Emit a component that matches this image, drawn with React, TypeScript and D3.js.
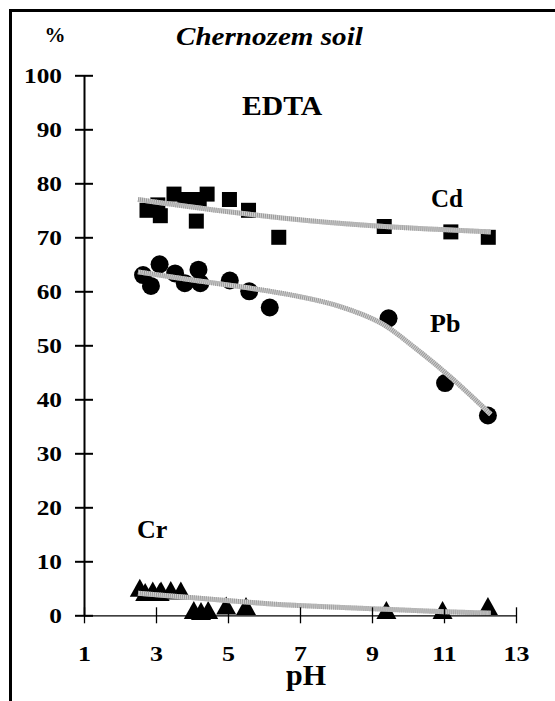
import React, { useEffect, useRef } from 'react';
import * as d3 from 'd3';

// Cd (squares)
const cdPH = [2.75, 3.05, 3.12, 3.5, 3.8, 4.12, 4.2, 4.42, 5.04, 5.57, 6.41, 9.34, 11.19, 12.23];
const cdValue = [75, 76, 74, 78, 77, 73, 77, 78, 77, 75, 70, 72, 71, 70];
// Pb (circles)
const pbPH = [2.64, 2.86, 3.1, 3.53, 3.8, 4.18, 4.23, 5.05, 5.59, 6.16, 9.46, 11.03, 12.22];
const pbValue = [63, 61, 65, 63.3, 61.5, 64, 61.5, 62, 60, 57, 55, 43, 37];
// Cr (triangles)
const crPH = [2.55, 2.7, 2.91, 3.1, 3.14, 3.41, 3.69, 4.05, 4.25, 4.45, 4.95, 5.5, 9.4, 10.96, 12.22];
const crValue = [5.1, 4.3, 4.6, 4.3, 4.6, 4.7, 4.6, 1, 0.8, 1, 1.8, 1.7, 1, 1, 1.7];

// trend lines
const cdTrendPH = [2.5, 4.8, 7.2, 9.35, 12.3];
const cdTrend = [77, 74.9, 73.1, 72, 71];
const pbTrendPH = [2.5, 4.2, 5.6, 7, 8.1, 9.25, 10.2, 11.2, 12.3];
const pbTrend = [63.6, 61.9, 60.6, 59, 57.2, 54.1, 49.5, 44, 37.2];
const crTrendPH = [2.5, 3.95, 6.2, 7, 9.4, 11, 12.3];
const crTrend = [4.1, 3.3, 2.1, 1.8, 1.1, 0.67, 0.4];

const xTicks = [1, 3, 5, 7, 9, 11, 13];
const yTicks = [0, 10, 20, 30, 40, 50, 60, 70, 80, 90, 100];

const serif = "'Liberation Serif', 'Times New Roman', serif";

export default function App() {
  const ref = useRef<SVGSVGElement | null>(null);

  useEffect(() => {
    document.body.style.margin = '0';
    const svg = d3.select(ref.current);
    svg.selectAll('*').remove();

    const x = d3.scaleLinear().domain([1, 13]).range([84, 516]);
    const y = d3.scaleLinear().domain([0, 100]).range([615.3, 75.3]);

    // frame (top and left edges only)
    svg.append('line').attr('x1', 9).attr('x2', 555).attr('y1', 10.5).attr('y2', 10.5)
      .attr('stroke', '#000').attr('stroke-width', 3);
    svg.append('line').attr('x1', 10.5).attr('x2', 10.5).attr('y1', 9).attr('y2', 701)
      .attr('stroke', '#000').attr('stroke-width', 3);

    // markers
    const cd = d3.range(cdPH.length).map((i) => [cdPH[i], cdValue[i]]);
    const pb = d3.range(pbPH.length).map((i) => [pbPH[i], pbValue[i]]);
    const cr = d3.range(crPH.length).map((i) => [crPH[i], crValue[i]]);

    svg.append('g').selectAll('rect').data(cd).enter().append('rect')
      .attr('x', (d) => x(d[0]) - 7.5).attr('y', (d) => y(d[1]) - 7.5)
      .attr('width', 15).attr('height', 15).attr('fill', '#000');

    svg.append('g').selectAll('circle').data(pb).enter().append('circle')
      .attr('cx', (d) => x(d[0])).attr('cy', (d) => y(d[1])).attr('r', 9).attr('fill', '#000');

    svg.append('g').selectAll('path').data(cr).enter().append('path')
      .attr('d', (d) => {
        const cx = x(d[0]);
        const cy = y(d[1]);
        return `M${cx},${cy - 9}L${cx + 10},${cy + 9}L${cx - 10},${cy + 9}Z`;
      })
      .attr('fill', '#000');

    // trend lines (grey, striped)
    const line = d3.line<number[]>().x((d) => x(d[0])).y((d) => y(d[1])).curve(d3.curveCatmullRom.alpha(0.5));
    const trends = [
      cdTrendPH.map((p, i) => [p, cdTrend[i]]),
      pbTrendPH.map((p, i) => [p, pbTrend[i]]),
      crTrendPH.map((p, i) => [p, crTrend[i]]),
    ];
    trends.forEach((t) => {
      svg.append('path').attr('d', line(t)).attr('fill', 'none')
        .attr('stroke', '#d2d2d2').attr('stroke-width', 5);
      svg.append('path').attr('d', line(t)).attr('fill', 'none')
        .attr('stroke', '#9a9a9a').attr('stroke-width', 5).attr('stroke-dasharray', '1 1');
    });

    // axes
    const yAxis = svg.append('g').attr('transform', 'translate(84,0)')
      .call(d3.axisLeft(y).tickValues(yTicks).tickSize(9).tickSizeOuter(0).tickPadding(13));
    yAxis.select('.domain').attr('stroke-width', 2);
    yAxis.selectAll('.tick line').attr('x1', 9).attr('stroke-width', 2);

    const xAxis = svg.append('g').attr('transform', 'translate(0,615.3)')
      .call(d3.axisBottom(x).tickValues(xTicks).tickSize(8).tickSizeOuter(0).tickPadding(22));
    xAxis.select('.domain').attr('stroke-width', 1.3);
    xAxis.selectAll('.tick line').attr('y1', -8).attr('stroke-width', 1.3);

    [yAxis, xAxis].forEach((a) => {
      a.selectAll('.tick text')
        .attr('fill', '#000')
        .style('font-family', serif)
        .style('font-size', '22px')
        .style('font-weight', 'bold');
    });
    // the source's digits are a bit wider than the font's
    yAxis.selectAll('.tick text').attr('x', -22 / 1.15).attr('transform', 'scale(1.15,1)');
    xAxis.selectAll('.tick text').attr('transform', 'scale(1.18,1)');

    // texts
    const label = (t: string, tx: number, ty: number, size: number, anchor = 'start', italic = false, sx = 1) => {
      svg.append('text').attr('transform', `translate(${tx},${ty}) scale(${sx},1)`).text(t)
        .style('font-family', serif).style('font-size', size + 'px')
        .style('font-weight', 'bold')
        .style('font-style', italic ? 'italic' : 'normal')
        .attr('text-anchor', anchor);
    };
    label('%', 55, 42, 21, 'middle');
    label('Chernozem soil', 176, 45, 26, 'start', true, 1.12);
    label('EDTA', 242, 115, 27, 'start', false, 1.1);
    label('Cd', 431, 206.5, 25);
    label('Pb', 430, 331.5, 26);
    label('Cr', 137, 538, 26);
    label('pH', 306, 685, 30, 'middle');
  }, []);

  return <svg ref={ref} width={555} height={701} style={{ display: 'block' }} />;
}
